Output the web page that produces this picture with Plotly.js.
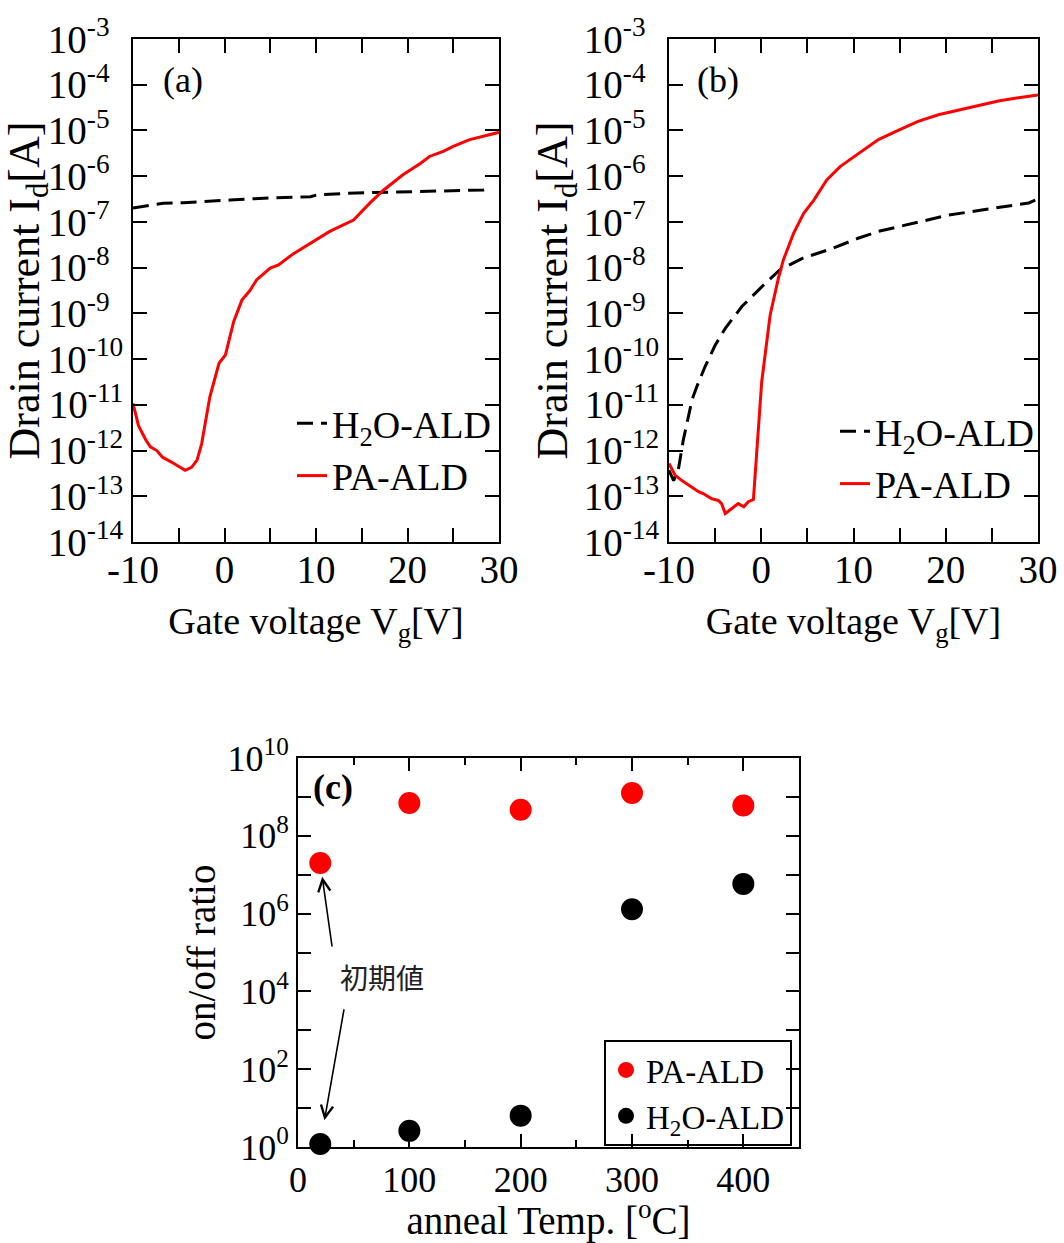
<!DOCTYPE html>
<html>
<head>
<meta charset="utf-8">
<script src="https://cdn.plot.ly/plotly-3.0.1.min.js"></script>
<style>
html, body { margin: 0; padding: 0; background: #fff; }
#chart { width: 1064px; height: 1243px; }
</style>
</head>
<body>
<div id="chart"></div>
<script>
// ---------- Panel (a): transfer curves ----------
const vgA_pa = [-10, -9.4, -8.6, -8.1, -7.4, -6.8, -5.8, -5.0, -4.3, -3.6, -3.0, -2.5, -1.6, -0.6, 0.1, 1.0, 1.9, 2.8, 3.5, 5.0, 5.9, 7.5, 9.4, 11.5, 14.1, 15.9, 17.4, 19.5, 21.4, 22.4, 23.9, 25.0, 26.8, 28.8, 30];
const idA_pa = [1.07e-11, 3.5e-12, 1.7e-12, 1.2e-12, 1.0e-12, 7.2e-13, 5.6e-13, 4.4e-13, 3.7e-13, 4.3e-13, 6.2e-13, 1.4e-12, 1.5e-11, 8.1e-11, 1.23e-10, 6.6e-10, 1.95e-9, 3.2e-9, 5.4e-9, 9.8e-9, 1.15e-8, 2.0e-8, 3.4e-8, 6.2e-8, 1.1e-7, 2.6e-7, 5.0e-7, 1.07e-6, 1.9e-6, 2.7e-6, 3.5e-6, 4.5e-6, 6.3e-6, 8.1e-6, 9.1e-6];
const vgA_h2o = [-10, -6.7, -4.5, -0.8, 0.6, 4.3, 9.4, 10.1, 14.4, 18.8, 28.3, 29.2];
const idA_h2o = [2.0e-7, 2.57e-7, 2.63e-7, 2.95e-7, 3.0e-7, 3.3e-7, 3.55e-7, 3.9e-7, 4.3e-7, 4.5e-7, 5.0e-7, 5.75e-7];

// ---------- Panel (b): transfer curves ----------
const vgB_pa = [-10, -9.35, -8.6, -7.5, -6.8, -6.3, -5.4, -4.65, -4.3, -3.9, -3.2, -2.5, -1.9, -1.4, -0.85, 0.05, 0.96, 1.86, 2.4, 3.5, 4.6, 5.7, 7.1, 8.55, 9.8, 11.3, 12.7, 14.9, 17.0, 19.2, 21.4, 23.6, 25.7, 27.9, 30];
const idB_pa = [5.2e-13, 2.9e-13, 2.2e-13, 1.6e-13, 1.26e-13, 1.15e-13, 8.9e-14, 8.1e-14, 6.9e-14, 4.2e-14, 5.4e-14, 6.9e-14, 5.9e-14, 7.6e-14, 8.5e-14, 3.2e-11, 9.1e-10, 5.9e-9, 1.48e-8, 5.6e-8, 1.55e-7, 3.0e-7, 8.3e-7, 1.62e-6, 2.45e-6, 4.0e-6, 6.3e-6, 1.02e-5, 1.58e-5, 2.2e-5, 2.8e-5, 3.6e-5, 4.4e-5, 5.2e-5, 6.0e-5];
const vgB_h2o = [-10, -9.5, -9.0, -8.45, -7.5, -7.0, -6.1, -5.0, -3.9, -2.1, 0.05, 2.0, 4.4, 7.65, 10.5, 12.7, 15.6, 20.3, 23.9, 26.5, 29.0, 29.7];
const idB_h2o = [3.7e-13, 2.2e-13, 3.7e-13, 1.7e-12, 1.29e-11, 2.45e-11, 6.8e-11, 2.0e-10, 4.7e-10, 1.41e-9, 3.8e-9, 8.9e-9, 1.58e-8, 2.6e-8, 4.4e-8, 6.2e-8, 8.5e-8, 1.41e-7, 1.82e-7, 2.2e-7, 2.6e-7, 3.0e-7];

// ---------- Panel (c): on/off ratio vs anneal temperature ----------
const annealTemp = [20, 100, 200, 300, 400];
const ratioPA = [2.0e7, 7.0e8, 4.7e8, 1.26e9, 6.0e8];
const ratioH2O = [1.2, 2.6, 6.4, 1.3e6, 5.8e6];

// ---------- Tick labels ----------
const vgTickVals = [-10, 0, 10, 20, 30];
const vgTickText = ['-10', '0', '10', '20', '30'];
const idTickVals = [1e-14, 1e-13, 1e-12, 1e-11, 1e-10, 1e-9, 1e-8, 1e-7, 1e-6, 1e-5, 1e-4, 1e-3];
const idTickText = ['10<sup>-14</sup>', '10<sup>-13</sup>', '10<sup>-12</sup>', '10<sup>-11</sup>', '10<sup>-10</sup>',
  '10<sup>-9\u2007</sup>', '10<sup>-8\u2007</sup>', '10<sup>-7\u2007</sup>', '10<sup>-6\u2007</sup>',
  '10<sup>-5\u2007</sup>', '10<sup>-4\u2007</sup>', '10<sup>-3\u2007</sup>'];
const tempTickVals = [0, 100, 200, 300, 400];
const tempTickText = ['0', '100', '200', '300', '400'];
const ratioTickVals = [1, 1e2, 1e4, 1e6, 1e8, 1e10];
const ratioTickText = ['10<sup>0</sup>', '10<sup>2</sup>', '10<sup>4</sup>', '10<sup>6</sup>', '10<sup>8</sup>', '10<sup>10</sup>'];
const ratioMinorVals = [1e1, 1e3, 1e5, 1e7, 1e9];

const SERIF = 'Liberation Serif, Times New Roman, Times, serif';
const RED = '#ff0000';
const W = 1064, H = 1243;
const px = v => v / W;
const py = v => 1 - v / H;

const traces = [
  { x: vgA_h2o, y: idA_h2o, xaxis: 'x', yaxis: 'y', mode: 'lines', name: 'H<sub>2</sub>O-ALD',
    line: { color: '#000', width: 3, dash: '16px,8px' }, legend: 'legend' },
  { x: vgA_pa, y: idA_pa, xaxis: 'x', yaxis: 'y', mode: 'lines', name: 'PA-ALD',
    line: { color: RED, width: 3 }, legend: 'legend' },
  { x: vgB_h2o, y: idB_h2o, xaxis: 'x2', yaxis: 'y2', mode: 'lines', name: 'H<sub>2</sub>O-ALD',
    line: { color: '#000', width: 3, dash: '16px,8px' }, legend: 'legend2' },
  { x: vgB_pa, y: idB_pa, xaxis: 'x2', yaxis: 'y2', mode: 'lines', name: 'PA-ALD',
    line: { color: RED, width: 3 }, legend: 'legend2' },
  { x: annealTemp, y: ratioPA, xaxis: 'x3', yaxis: 'y3', mode: 'markers', name: 'PA-ALD',
    marker: { color: RED, size: 22 }, cliponaxis: false, legend: 'legend3' },
  { x: annealTemp, y: ratioH2O, xaxis: 'x3', yaxis: 'y3', mode: 'markers', name: 'H<sub>2</sub>O-ALD',
    marker: { color: '#000', size: 22 }, cliponaxis: false, legend: 'legend3' }
];

function vgAxis(domain) {
  return {
    domain: domain, range: [-10, 30], tickvals: vgTickVals, ticktext: vgTickText,
    ticks: 'inside', ticklen: 14, tickwidth: 2, tickcolor: '#000', mirror: 'ticks',
    showline: true, linecolor: '#000', linewidth: 2, showgrid: false, zeroline: false,
    minor: { dtick: 5, tick0: 0, ticks: 'inside', ticklen: 14, tickwidth: 2, tickcolor: '#000', showgrid: false },
    tickfont: { family: SERIF, size: 39, color: '#000' }, ticklabelstandoff: -8,
    title: { text: 'Gate voltage V<sub>g</sub>[V]', font: { family: SERIF, size: 38, color: '#000' }, standoff: 18 },
    fixedrange: true
  };
}
function idAxis(domain) {
  return {
    domain: domain, type: 'log', range: [-14, -3], tickvals: idTickVals, ticktext: idTickText,
    ticks: 'inside', ticklen: 14, tickwidth: 2, tickcolor: '#000', mirror: 'ticks',
    showline: true, linecolor: '#000', linewidth: 2, showgrid: false, zeroline: false,
    tickfont: { family: SERIF, size: 39, color: '#000' },
    title: { text: 'Drain current I<sub>d</sub>[A]', font: { family: SERIF, size: 44, color: '#000' }, standoff: 2 },
    fixedrange: true
  };
}

const yTopA = py(39), yBotA = py(542);

function legendAt(xPix, topPix, size, border) {
  return { x: px(xPix), y: py(topPix), xanchor: 'left', yanchor: 'top', bgcolor: 'rgba(0,0,0,0)',
    borderwidth: border ? 2 : 0, bordercolor: '#000', traceorder: 'normal',
    font: { family: SERIF, size: size, color: '#000' } };
}

const layout = {
  width: W, height: H,
  margin: { l: 0, r: 0, t: 0, b: 0 },
  paper_bgcolor: '#fff', plot_bgcolor: '#fff',
  font: { family: SERIF, color: '#000' },
  showlegend: true,
  xaxis: Object.assign(vgAxis([px(133), px(499)]), { anchor: 'y' }),
  yaxis: Object.assign(idAxis([yBotA, yTopA]), { anchor: 'x' }),
  xaxis2: Object.assign(vgAxis([px(669), px(1038)]), { anchor: 'y2' }),
  yaxis2: Object.assign(idAxis([yBotA, yTopA]), { anchor: 'x2' }),
  xaxis3: {
    anchor: 'y3', domain: [px(298), px(799)], range: [0, 450], tickvals: tempTickVals, ticktext: tempTickText,
    ticks: 'inside', ticklen: 13, tickwidth: 2, tickcolor: '#000', mirror: 'ticks',
    showline: true, linecolor: '#000', linewidth: 2, showgrid: false, zeroline: false,
    minor: { dtick: 50, tick0: 0, ticks: 'inside', ticklen: 7, tickwidth: 2, tickcolor: '#000', showgrid: false },
    tickfont: { family: SERIF, size: 36, color: '#000' },
    title: { text: 'anneal Temp. [<sup>o</sup>C]', font: { family: SERIF, size: 39, color: '#000' }, standoff: 12 },
    fixedrange: true
  },
  yaxis3: {
    anchor: 'x3', domain: [py(1147), py(758)], type: 'log', range: [0, 10],
    tickvals: ratioTickVals, ticktext: ratioTickText,
    ticks: 'inside', ticklen: 13, tickwidth: 2, tickcolor: '#000', mirror: 'ticks',
    minor: { tickvals: ratioMinorVals, ticks: 'inside', ticklen: 13, tickwidth: 2, tickcolor: '#000', showgrid: false },
    showline: true, linecolor: '#000', linewidth: 2, showgrid: false, zeroline: false,
    tickfont: { family: SERIF, size: 36, color: '#000' },
    title: { text: 'on/off ratio', font: { family: SERIF, size: 39, color: '#000' }, standoff: 0 },
    fixedrange: true
  },
  legend: legendAt(292, 392, 38, false),
  legend2: legendAt(835, 400, 38, false),
  legend3: legendAt(604, 1040, 33, true),
  annotations: [
    { text: '(a)', xref: 'paper', yref: 'paper', x: px(183), y: py(80), showarrow: false,
      xanchor: 'center', yanchor: 'middle', font: { family: SERIF, size: 36, color: '#000' } },
    { text: '(b)', xref: 'paper', yref: 'paper', x: px(718), y: py(80), showarrow: false,
      xanchor: 'center', yanchor: 'middle', font: { family: SERIF, size: 36, color: '#000' } },
    { text: '<b>(c)</b>', xref: 'paper', yref: 'paper', x: px(333), y: py(787), showarrow: false,
      xanchor: 'center', yanchor: 'middle', font: { family: SERIF, size: 36, color: '#000' } },
    { text: '初期値', xref: 'paper', yref: 'paper', x: px(382), y: py(977), showarrow: false,
      xanchor: 'center', yanchor: 'middle', font: { family: 'Noto Sans CJK JP, sans-serif', size: 28, color: '#222' } },
    { text: '', xref: 'x3', yref: 'y3', x: annealTemp[0], y: Math.log10(ratioPA[0]),
      showarrow: true, ax: 12, ay: 85, standoff: 14, arrowhead: 5, arrowsize: 1.5, arrowwidth: 1.6, arrowcolor: '#000' },
    { text: '', xref: 'x3', yref: 'y3', x: annealTemp[0], y: Math.log10(ratioH2O[0]),
      showarrow: true, ax: 24, ay: -136, standoff: 24, arrowhead: 5, arrowsize: 1.5, arrowwidth: 1.6, arrowcolor: '#000' }
  ]
};

Plotly.newPlot('chart', traces, layout, { displayModeBar: false, staticPlot: true });
</script>
</body>
</html>
